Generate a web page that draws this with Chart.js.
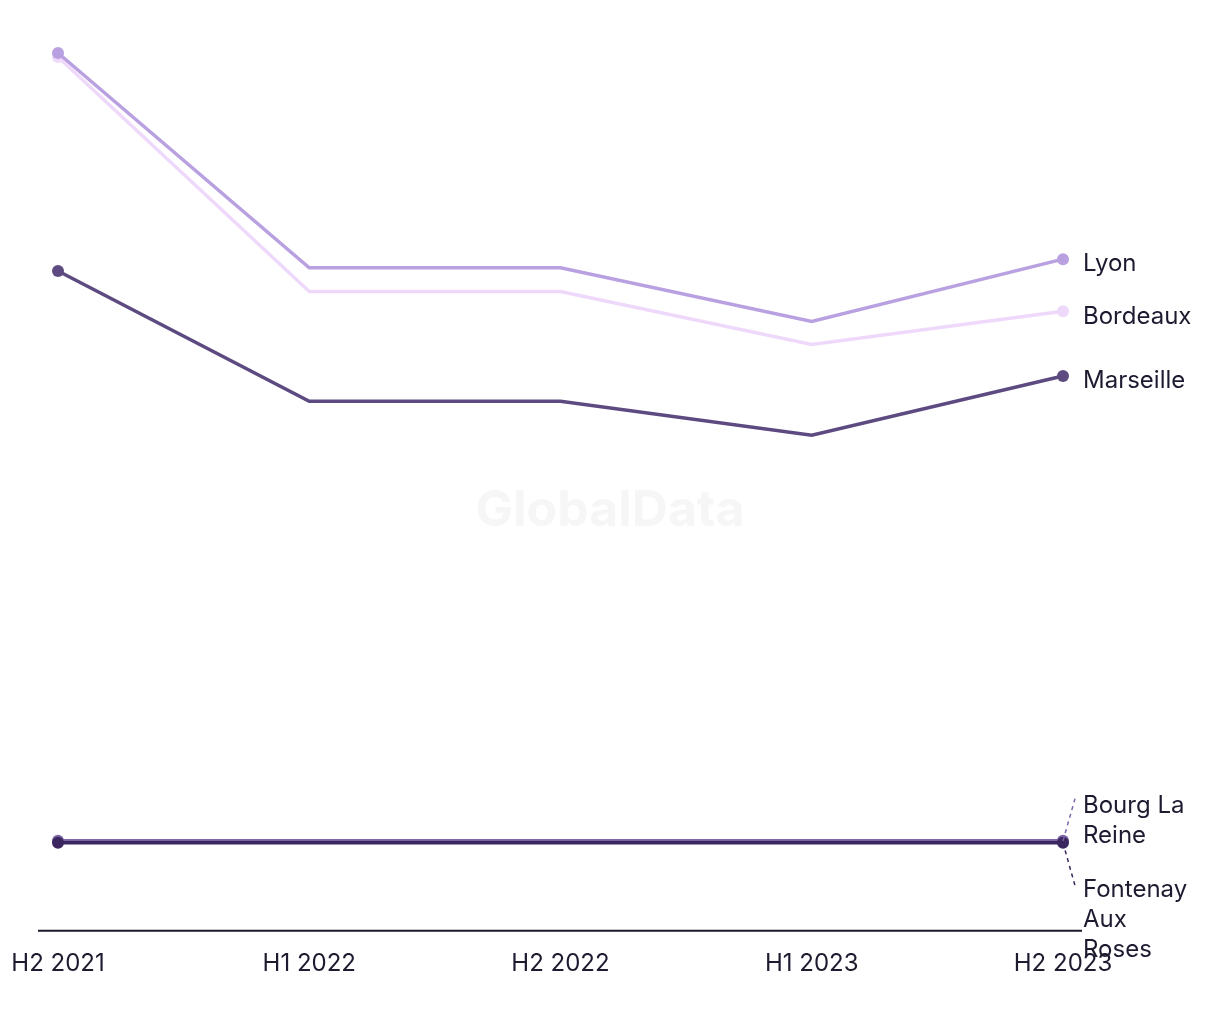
<!DOCTYPE html>
<html>
<head>
<meta charset="utf-8">
<script src="https://cdn.jsdelivr.net/npm/chart.js@4.4.1/dist/chart.umd.min.js"></script>
<style>
  html, body { margin: 0; padding: 0; background: #fff; }
  #wrap { width: 1220px; height: 1020px; position: relative; }
</style>
</head>
<body>
<div id="wrap"><canvas id="chart"></canvas></div>
<script>
// periods on the x axis
const periods = ['H2 2021', 'H1 2022', 'H2 2022', 'H1 2023', 'H2 2023'];

// series values (relative index)
const lyon = [100, 72.8, 72.8, 66.0, 73.9];
const bordeaux = [99.5, 69.8, 69.8, 63.1, 67.3];
const marseille = [72.4, 55.9, 55.9, 51.6, 59.1];
const bourgLaReine = [0.25, 0.25, 0.25, 0.25, 0.25];
const fontenayAuxRoses = [0, 0, 0, 0, 0];

const TEXT = '#1d1b30';
const FONT = 'Inter, "Noto Sans", sans-serif';
const FONT_SIZE = 24;

// end label placement: dy of first line from the last point, optional dashed leader
const endLabels = {
  'Lyon': { lines: ['Lyon'], dy: 5 },
  'Bordeaux': { lines: ['Bordeaux'], dy: 6 },
  'Marseille': { lines: ['Marseille'], dy: 5 },
  'Bourg La Reine': { lines: ['Bourg La', 'Reine'], dy: -35, leader: -42 },
  'Fontenay Aux Roses': { lines: ['Fontenay', 'Aux', 'Roses'], dy: 47, leader: 43 },
};

function series(label, data, color) {
  // markers only on the first and last period
  const radius = data.map((v, i) => (i === 0 || i === data.length - 1) ? 6 : 0);
  return {
    label, data,
    borderColor: color, backgroundColor: color,
    borderWidth: 3.5, pointRadius: radius, pointHoverRadius: radius,
    pointBorderWidth: 0, tension: 0, clip: false,
  };
}

const endLabelPlugin = {
  id: 'endLabels',
  beforeDatasetsDraw(chart) {
    // watermark
    const ctx = chart.ctx;
    ctx.save();
    ctx.font = 'bold 50px ' + FONT;
    ctx.fillStyle = '#f6f6f6';
    ctx.textAlign = 'center';
    ctx.textBaseline = 'middle';
    ctx.fillText('GlobalData', 610, 511);
    ctx.restore();
  },
  afterDatasetsDraw(chart) {
    const ctx = chart.ctx;
    const area = chart.chartArea;
    // baseline
    ctx.save();
    ctx.strokeStyle = '#1a1a2e';
    ctx.lineWidth = 2;
    ctx.beginPath();
    ctx.moveTo(area.left - 20, area.bottom);
    ctx.lineTo(area.right + 19, area.bottom);
    ctx.stroke();

    ctx.font = FONT_SIZE + 'px ' + FONT;
    ctx.textBaseline = 'middle';
    ctx.textAlign = 'left';
    chart.data.datasets.forEach((ds, i) => {
      const meta = chart.getDatasetMeta(i);
      const pt = meta.data[meta.data.length - 1];
      const cfg = endLabels[ds.label];
      if (!cfg) return;
      if (cfg.leader) {
        ctx.strokeStyle = ds.borderColor;
        ctx.lineWidth = 1.5;
        ctx.setLineDash([4, 4]);
        ctx.beginPath();
        ctx.moveTo(pt.x, pt.y);
        ctx.lineTo(pt.x + 12, pt.y + cfg.leader);
        ctx.stroke();
        ctx.setLineDash([]);
      }
      ctx.fillStyle = TEXT;
      cfg.lines.forEach((t, k) => {
        ctx.fillText(t, pt.x + 20, pt.y + cfg.dy + k * 30);
      });
    });
    ctx.restore();
  }
};

new Chart(document.getElementById('chart'), {
  type: 'line',
  data: {
    labels: periods,
    datasets: [
      series('Fontenay Aux Roses', fontenayAuxRoses, '#3b2660'),
      series('Bourg La Reine', bourgLaReine, '#7d66a8'),
      series('Lyon', lyon, '#b9a1e1'),
      series('Bordeaux', bordeaux, '#efd9fb'),
      series('Marseille', marseille, '#5d4a80'),
    ],
  },
  options: {
    responsive: true,
    maintainAspectRatio: false,
    animation: false,
    layout: { padding: { left: 58, right: 157, top: 40, bottom: 24 } },
    plugins: {
      legend: { display: false },
      tooltip: { enabled: false },
    },
    scales: {
      x: {
        offset: false,
        grid: { display: false, drawTicks: false },
        border: { display: false },
        ticks: {
          color: TEXT,
          font: { family: FONT, size: FONT_SIZE, lineHeight: 2.05 },
          padding: 8,
          maxRotation: 0,
        },
      },
      y: {
        display: false,
        min: -11.15,
        max: 101.65,
      },
    },
  },
  plugins: [endLabelPlugin],
});
</script>
</body>
</html>
